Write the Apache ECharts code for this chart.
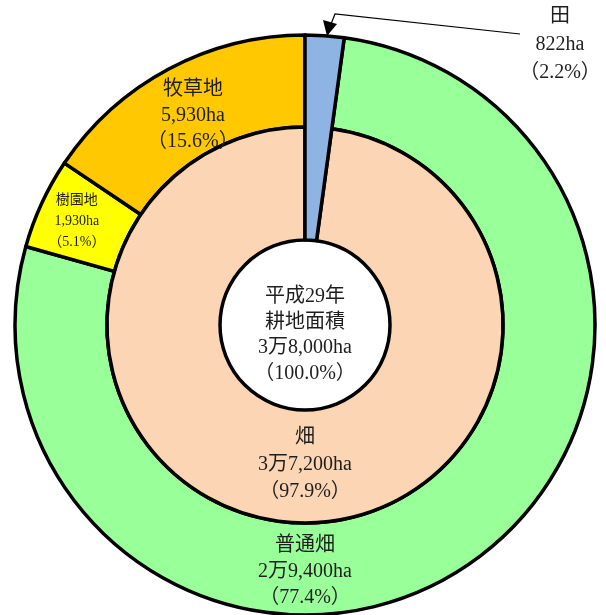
<!DOCTYPE html>
<html>
<head>
<meta charset="utf-8">
<script src="https://cdn.jsdelivr.net/npm/echarts@6/dist/echarts.min.js"></script>
<style>
  html, body { margin: 0; padding: 0; background: #fff; }
  #main { width: 606px; height: 615px; }
</style>
</head>
<body>
<div id="main"></div>
<script>
// 外側（内訳）
const outerNames = ["田", "普通畑", "樹園地", "牧草地"];
const outerValues = [822, 29400, 1930, 5930];
const outerText = ["822ha", "2万9,400ha", "1,930ha", "5,930ha"];
const outerPct = ["2.2%", "77.4%", "5.1%", "15.6%"];
const outerColors = ["#8DB4E2", "#99FF99", "#FFFF00", "#FFC800"];

// 内側（田・畑）
const innerNames = ["田", "畑"];
const innerValues = [822, 37200];
const innerText = ["822ha", "3万7,200ha"];
const innerPct = ["2.2%", "97.9%"];

const centerLines = ["平成29年", "耕地面積", "3万8,000ha", "（100.0%）"];

const FONT = '"Liberation Serif", "Noto Sans CJK JP", serif';
const TXT = "#1e1e1e";
const cx = 305, cy = 325;

const chart = echarts.init(document.getElementById("main"));

const option = {
  animation: false,
  series: [
    {
      // 外側リング
      type: "pie",
      center: [cx, cy],
      radius: [198, 290],
      startAngle: 90,
      silent: true,
      itemStyle: { borderColor: "#000", borderWidth: 3.5 },
      label: {
        position: "inside",
        fontFamily: FONT,
        fontSize: 20,
        lineHeight: 26,
        color: TXT,
        formatter: p => p.dataIndex === 0 ? "" :
          p.name + "\n" + outerText[p.dataIndex] + "\n（" + outerPct[p.dataIndex] + "）"
      },
      labelLayout: p => {
        if (p.dataIndex === 1) return { x: cx, y: 572 };
        if (p.dataIndex === 2) return { dx: -4 };
        if (p.dataIndex === 3) return { dx: 4, dy: 9 };
        return null;
      },
      data: outerNames.map((n, i) => ({
        name: n,
        value: outerValues[i],
        itemStyle: i === 0 ? { color: outerColors[i], borderWidth: 0 } : { color: outerColors[i] },
        label: i === 2 ? { fontSize: 14, lineHeight: 21 } : {}
      }))
    },
    {
      // 内側リング
      type: "pie",
      center: [cx, cy],
      radius: [85, 198],
      startAngle: 90,
      silent: true,
      itemStyle: { borderColor: "#000", borderWidth: 3.5 },
      label: {
        position: "inside",
        fontFamily: FONT,
        fontSize: 20,
        lineHeight: 27,
        color: TXT,
        formatter: p => p.dataIndex === 0 ? "" :
          p.name + "\n" + innerText[p.dataIndex] + "\n（" + innerPct[p.dataIndex] + "）"
      },
      labelLayout: p => p.dataIndex === 1 ? { x: cx, y: 465 } : null,
      data: innerNames.map((n, i) => ({
        name: n,
        value: innerValues[i],
        itemStyle: i === 0 ? { color: "#8DB4E2", borderWidth: 0 } : { color: "#FCD5B4" }
      }))
    },
    {
      // 田（両リングを貫く）
      type: "pie",
      center: [cx, cy],
      radius: [85, 290],
      startAngle: 90,
      silent: true,
      label: {
        position: "outside",
        fontFamily: FONT,
        fontSize: 20,
        lineHeight: 28,
        color: TXT,
        formatter: p => p.dataIndex === 0 ?
          p.name + "\n" + innerText[0] + "\n（" + innerPct[0] + "）" : ""
      },
      labelLine: { show: false },
      labelLayout: p => p.dataIndex === 0 ? { x: 560, y: 45, align: "center", verticalAlign: "middle" } : null,
      data: innerNames.map((n, i) => ({
        name: n,
        value: innerValues[i],
        itemStyle: i === 0 ?
          { color: "#8DB4E2", borderColor: "#000", borderWidth: 3.5 } :
          { color: "rgba(0,0,0,0)", borderWidth: 0 }
      }))
    }
  ],
  graphic: [
    {
      type: "text",
      x: cx,
      y: cy + 10,
      style: {
        text: centerLines.join("\n"),
        fontFamily: FONT,
        fontSize: 20,
        lineHeight: 25.5,
        fill: TXT,
        align: "center",
        verticalAlign: "middle"
      }
    },
    {
      type: "polyline",
      shape: { points: [[520, 34], [335, 14], [331, 24]] },
      style: { stroke: "#000", lineWidth: 1.2, fill: null }
    },
    {
      type: "polygon",
      shape: { points: [[327, 36], [323, 20], [337, 24]] },
      style: { fill: "#000" }
    }
  ]
};

chart.setOption(option);
</script>
</body>
</html>
